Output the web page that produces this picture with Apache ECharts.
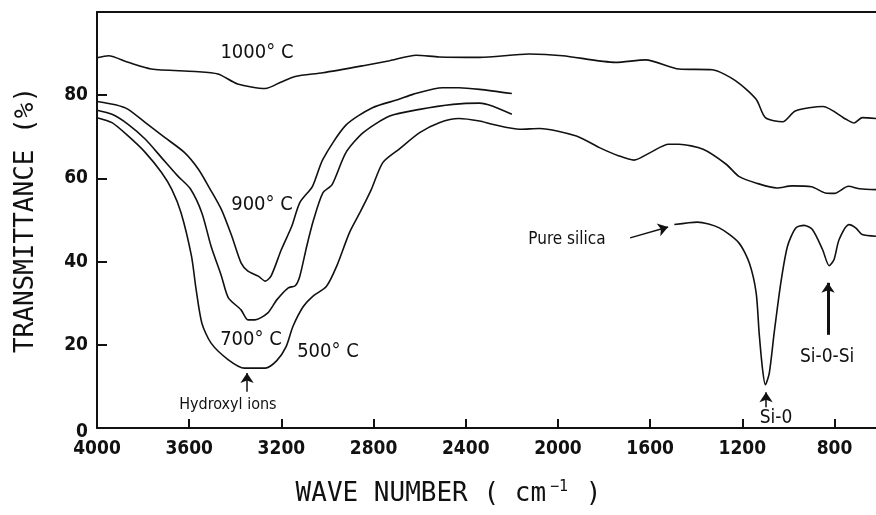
<!DOCTYPE html>
<html>
<head>
<meta charset="utf-8">
<script src="https://cdn.jsdelivr.net/npm/echarts@6/dist/echarts.min.js"></script>
<style>
  html, body { margin: 0; padding: 0; background: #fff; }
  #chart { width: 876px; height: 515px; }
</style>
</head>
<body>
<div id="chart"></div>
<script>
const X_TICKS = [4000, 3600, 3200, 2800, 2400, 2000, 1600, 1200, 800];
const Y_TICKS = [0, 20, 40, 60, 80];

const WAVE_1000 = [4000, 3950, 3865, 3765, 3575, 3475, 3390, 3270, 3200, 3140, 3020, 2845, 2730, 2615, 2515, 2340, 2125, 1980, 1750, 1620, 1475, 1330, 1230, 1140, 1100, 1025, 970, 850, 750, 715, 680, 620];
const T_1000 = [89.0, 89.5, 87.9, 86.3, 85.7, 85.1, 82.7, 81.6, 83.2, 84.5, 85.4, 87.1, 88.3, 89.6, 89.2, 89.1, 89.9, 89.5, 87.9, 88.5, 86.3, 86.1, 83.5, 79.0, 74.6, 73.6, 76.2, 77.3, 74.2, 73.3, 74.6, 74.4];

const WAVE_900 = [4000, 3920, 3865, 3790, 3705, 3620, 3560, 3510, 3460, 3415, 3375, 3345, 3300, 3270, 3245, 3200, 3155, 3120, 3065, 3020, 2920, 2805, 2690, 2630, 2500, 2430, 2340, 2200];
const T_900 = [78.5, 77.7, 76.6, 73.4, 69.8, 66.2, 62.2, 57.5, 52.5, 46.1, 39.7, 37.7, 36.5, 35.3, 36.5, 42.9, 48.5, 54.2, 58.1, 64.6, 72.8, 77.0, 79.0, 80.2, 81.8, 81.8, 81.4, 80.4];

const WAVE_700 = [4000, 3935, 3865, 3790, 3720, 3650, 3595, 3545, 3505, 3460, 3430, 3375, 3345, 3315, 3260, 3220, 3170, 3140, 3120, 3090, 3060, 3020, 2980, 2920, 2845, 2730, 2600, 2455, 2340, 2285, 2200];
const T_700 = [76.4, 75.4, 73.0, 69.4, 65.0, 60.6, 57.5, 51.7, 43.7, 36.5, 31.3, 28.4, 26.0, 26.0, 27.6, 30.8, 33.7, 34.2, 36.5, 43.7, 50.1, 56.5, 58.5, 66.2, 71.0, 75.0, 76.6, 77.8, 78.1, 77.4, 75.4];

const WAVE_500 = [4000, 3935, 3865, 3790, 3720, 3675, 3635, 3590, 3570, 3545, 3505, 3430, 3360, 3270, 3220, 3180, 3150, 3105, 3065, 3005, 2960, 2905, 2860, 2810, 2760, 2690, 2600, 2515, 2430, 2340, 2285, 2165, 2080, 1920, 1820, 1735, 1670, 1600, 1520, 1475, 1370, 1270, 1215, 1135, 1050, 985, 900, 840, 800, 740, 690, 620];
const T_500 = [74.6, 73.4, 70.2, 66.2, 61.4, 57.3, 51.7, 41.3, 33.3, 25.2, 20.4, 16.4, 14.4, 14.4, 16.2, 19.5, 24.4, 29.2, 31.6, 34.0, 38.9, 46.9, 51.7, 57.3, 63.8, 67.0, 71.0, 73.4, 74.4, 73.8, 73.0, 71.8, 72.0, 70.2, 67.4, 65.4, 64.4, 66.2, 68.2, 68.2, 67.0, 63.4, 60.5, 58.8, 57.7, 58.2, 58.0, 56.5, 56.4, 58.1, 57.5, 57.3];

const WAVE_SILICA = [1495, 1395, 1300, 1215, 1170, 1140, 1127, 1112, 1100, 1083, 1062, 1033, 1004, 968, 932, 896, 852, 823, 802, 780, 737, 708, 680, 620];
const T_SILICA = [48.9, 49.5, 48.1, 44.5, 39.7, 32.5, 22.8, 14.0, 10.4, 13.2, 22.8, 34.9, 43.7, 48.1, 48.7, 47.7, 42.9, 39.0, 40.5, 45.3, 48.9, 48.1, 46.5, 46.1];

const NOTE_TEXTS = ["1000° C", "900° C", "700° C", "500° C", "Hydroxyl ions", "Pure silica", "Si-0", "Si-0-Si"];
const NOTE_WAVES = [3306, 3284, 3332, 2998, 3432, 1961, 1054, 832];
const NOTE_VALUES = [90.1, 53.6, 21.2, 18.3, 5.5, 45.2, 2.4, 17.1];

const ARROW_FROM = [[3349, 8.7], [1687, 45.7], [1097, 5.0], [828, 22.4]];
const ARROW_TO = [[3349, 13.2], [1522, 48.3], [1097, 8.6], [828, 34.9]];

const NOTE_FONT_SIZES = [20, 20, 20, 20, 16, 17, 19, 19];
const ARROW_WIDTHS = [1.5, 1.5, 1.5, 3];

function zip(xs, ys) {
  return xs.map((x, i) => [x, ys[i]]);
}

function curve(name, xs, ys) {
  return {
    name,
    type: "line",
    data: zip(xs, ys),
    smooth: 0.25,
    showSymbol: false,
    symbol: "none",
    lineStyle: { color: "#111", width: 1.6 },
  };
}

const chart = echarts.init(document.getElementById("chart"));

const labelFont = "'DejaVu Sans Condensed', 'DejaVu Sans', sans-serif";
const titleFont = "'DejaVu Sans Mono', monospace";

chart.setOption({
  animation: false,
  backgroundColor: "#fff",
  grid: { left: 97, right: 0, top: 12, bottom: 87 },
  xAxis: [
    {
      type: "value",
      inverse: true,
      min: 620,
      max: 4000,
      position: "bottom",
      name: "{t|WAVE NUMBER ( cm}{s|−1}{t| )}",
      nameLocation: "middle",
      nameGap: 52,
      nameTextStyle: {
        padding: [0, 76, 0, 0],
        rich: {
          t: { fontFamily: titleFont, fontSize: 26, color: "#111" },
          s: { fontFamily: titleFont, fontSize: 15, color: "#111", verticalAlign: "top", padding: [0, 2, 14, 4] },
        },
      },
      axisLine: { show: true, lineStyle: { color: "#111", width: 2 } },
      axisTick: { inside: true, length: 9, customValues: X_TICKS, lineStyle: { color: "#111", width: 2 } },
      axisLabel: {
        customValues: X_TICKS,
        formatter: (value) => String(value),
        margin: 12,
        color: "#111",
        fontFamily: labelFont,
        fontWeight: "bold",
        fontSize: 19,
      },
      splitLine: { show: false },
    },
    {
      type: "value",
      inverse: true,
      min: 620,
      max: 4000,
      position: "top",
      axisLine: { show: true, lineStyle: { color: "#111", width: 2 } },
      axisTick: { show: false },
      axisLabel: { show: false },
      splitLine: { show: false },
    },
  ],
  yAxis: {
    type: "value",
    min: 0,
    max: 100,
    name: "TRANSMITTANCE (%)",
    nameLocation: "middle",
    nameGap: 58,
    nameTextStyle: { fontFamily: titleFont, fontSize: 26, color: "#111" },
    axisLine: { show: true, lineStyle: { color: "#111", width: 2 } },
    axisTick: { show: true, inside: true, length: 10, customValues: Y_TICKS, lineStyle: { color: "#111", width: 2 } },
    axisLabel: {
      customValues: Y_TICKS,
      // the 0 sits a little below the axis line in the original
      formatter: (value) => (value === 0 ? "{z|0}" : String(value)),
      margin: 9,
      color: "#111",
      fontFamily: labelFont,
      fontWeight: "bold",
      fontSize: 19,
      rich: {
        z: { fontFamily: labelFont, fontWeight: "bold", fontSize: 19, color: "#111", padding: [8, 0, 0, 0] },
      },
    },
    splitLine: { show: false },
  },
  series: [
    curve("1000°C", WAVE_1000, T_1000),
    curve("900°C", WAVE_900, T_900),
    curve("700°C", WAVE_700, T_700),
    curve("500°C", WAVE_500, T_500),
    curve("Pure silica", WAVE_SILICA, T_SILICA),
    {
      name: "notes",
      type: "scatter",
      symbolSize: 0,
      silent: true,
      itemStyle: { opacity: 1, color: "#111" },
      data: NOTE_TEXTS.map((text, i) => ({
        name: text,
        value: [NOTE_WAVES[i], NOTE_VALUES[i]],
        label: { fontSize: NOTE_FONT_SIZES[i] },
      })),
      label: {
        show: true,
        position: "inside",
        formatter: "{b}",
        color: "#111",
        opacity: 1,
        fontFamily: labelFont,
      },
      markLine: {
        silent: true,
        symbol: ["none", "arrow"],
        symbolSize: 10,
        label: { show: false },
        itemStyle: { color: "#111", opacity: 1 },
        lineStyle: { color: "#111", opacity: 1, type: "solid" },
        data: ARROW_FROM.map((from, i) => [
          { coord: from, lineStyle: { color: "#111", width: ARROW_WIDTHS[i], type: "solid" } },
          { coord: ARROW_TO[i], symbol: "arrow", symbolSize: 10 },
        ]),
      },
    },
  ],
});
</script>
</body>
</html>
